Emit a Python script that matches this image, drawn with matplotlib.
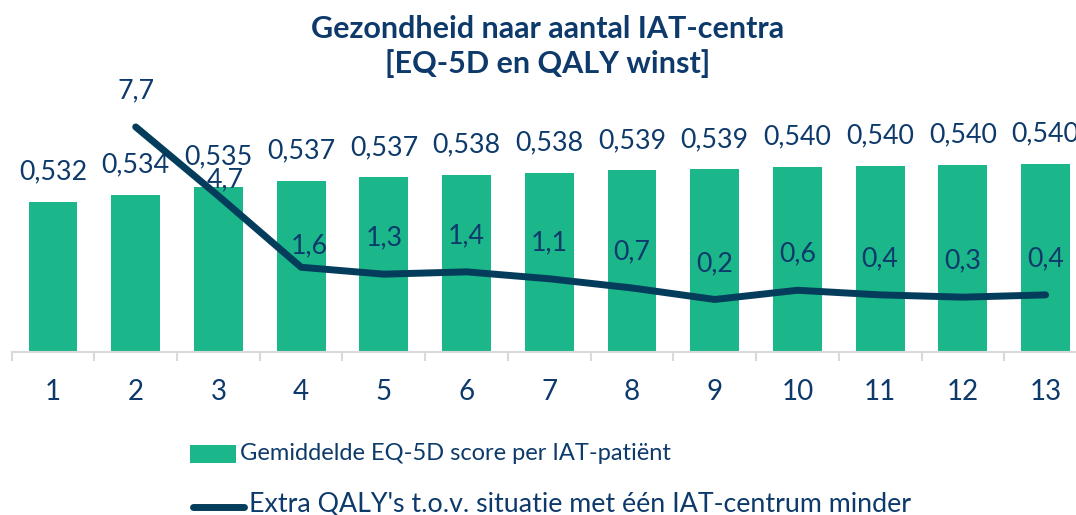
import numpy as np
import matplotlib
matplotlib.use("Agg")
import matplotlib.pyplot as plt
from matplotlib.patches import Rectangle
from matplotlib.lines import Line2D

plt.rcParams["font.family"] = ["Lato", "DejaVu Sans"]

# ---------------------------------------------------
# Data
# ---------------------------------------------------
centra = [str(i) for i in range(1, 14)]
eq5d = [0.5321, 0.5337, 0.5354, 0.5366, 0.5374, 0.5380, 0.5384,
        0.5389, 0.5391, 0.5396, 0.5399, 0.5401, 0.5403]
extra_qaly = [np.nan, 7.7, 4.7, 1.6, 1.3, 1.4, 1.1, 0.7, 0.2, 0.6, 0.4, 0.3, 0.4]

label_bar = "Gemiddelde EQ-5D score per IAT-patiënt"
label_line = "Extra QALY's t.o.v. situatie met één IAT-centrum minder"

GREEN = "#1cb68b"
NAVY = "#043d5b"
TEXT = "#0d3a6b"
GRID = "#d9d9d9"

W, H = 1076, 515

# label offsets (px) for the line labels that were moved by hand
line_label_offset = {2: (7, 16), 3: (8, 21)}

fig = plt.figure(figsize=(W / 100, H / 100), dpi=100)
ax = fig.add_axes([0.0108, 0.3171, 0.9994, 0.4887])
ax2 = ax.twinx()

x = np.arange(len(centra))
ax.bar(x, eq5d, width=0.59, color=GREEN, zorder=2)
ax.set_ylim(0.50, 0.554)
ax.set_xlim(-0.5, len(centra) - 0.5)

for xi, v in zip(x, eq5d):
    ax.annotate(f"{v:.3f}".replace(".", ","), (xi, v), xytext=(0, 21.6),
                textcoords="offset points", ha="center", va="center",
                fontsize=19.3, color=TEXT)

ax2.plot(x, extra_qaly, color=NAVY, lw=5, solid_capstyle="round",
         solid_joinstyle="round", zorder=3)
ax2.set_ylim(-2.07, 8.87)

for i, (xi, v) in enumerate(zip(x, extra_qaly)):
    if np.isnan(v):
        continue
    dx, dy = line_label_offset.get(i, (0, 36))
    ax2.annotate(f"{v:.1f}".replace(".", ","), (xi, v),
                 xytext=(dx * 0.72, dy * 0.72), textcoords="offset points",
                 ha="center", va="center", fontsize=19.3, color=TEXT)

# axes styling
for a in (ax, ax2):
    for side in ("top", "left", "right"):
        a.spines[side].set_visible(False)
    a.set_yticks([])
ax.spines["bottom"].set_color(GRID)
ax.spines["bottom"].set_linewidth(1.5)
ax2.spines["bottom"].set_visible(False)

ax.set_xticks(x)
ax.set_xticklabels(centra, fontsize=20, color=TEXT)
ax.tick_params(axis="x", which="major", length=0, pad=20)
ax.set_xticks(np.arange(-0.5, len(centra), 1.0), minor=True)
ax.tick_params(axis="x", which="minor", length=6.5, width=1.5, color=GRID)

# title
fig.text(0.509, 0.9097, "Gezondheid naar aantal IAT-centra\n[EQ-5D en QALY winst]",
         ha="center", va="center", fontsize=22, fontweight="bold",
         color=TEXT, linespacing=1.28)

# legend (drawn by hand, in figure pixels from top-left)
def fx(px):
    return px / W

def fy(py):
    return 1 - py / H

fig.add_artist(Rectangle((fx(190), fy(463)), fx(236) - fx(190), fy(445) - fy(463),
                         transform=fig.transFigure, facecolor=GREEN, edgecolor="none"))
fig.text(fx(240), fy(453), label_bar, ha="left", va="center",
         fontsize=17, color=TEXT)
fig.add_artist(Line2D([fx(193), fx(244)], [fy(506.5), fy(506.5)],
                      transform=fig.transFigure, color=NAVY, lw=5,
                      solid_capstyle="round"))
fig.text(fx(249), fy(504), label_line, ha="left", va="center",
         fontsize=19.3, color=TEXT)

fig.savefig("out.png", dpi=100)
